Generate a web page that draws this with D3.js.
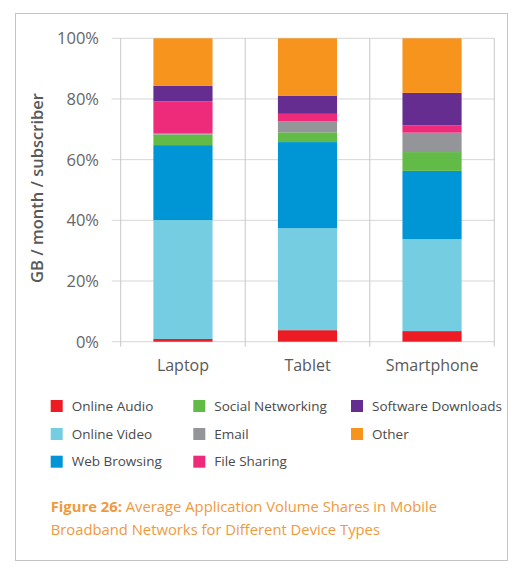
<!doctype html>
<html>
  <head>
    <meta charset="utf-8">
    <title>Application Volume Shares</title>
    <script src="https://cdnjs.cloudflare.com/ajax/libs/d3/7.8.5/d3.min.js"></script>
    <style>
      body { margin: 0; background: #fff; font-family: "Open Sans", "Noto Sans", sans-serif; }
    </style>
  </head>
  <body>
    <div id="chart"></div>
    <script>
      // data (percent of volume)
      const devices = ['Laptop', 'Tablet', 'Smartphone'];
      const apps = ['Online Audio', 'Online Video', 'Web Browsing', 'Social Networking',
                    'Email', 'File Sharing', 'Software Downloads', 'Other'];
      const laptop     = [0.9, 39.2, 24.7, 3.5, 0.5, 10.4, 5.1, 15.7];
      const tablet     = [3.8, 33.6, 28.4, 3.2, 3.7, 2.4, 5.9, 19.0];
      const smartphone = [3.5, 30.3, 22.5, 6.2, 6.4, 2.4, 10.7, 18.0];
      const yTicks = [0, 20, 40, 60, 80, 100];
      const colors = ['#ed1c24', '#74cde1', '#0096d6', '#62bb46',
                      '#939598', '#ee2a7b', '#662d91', '#f7941e'];

      const rows = [laptop, tablet, smartphone].map((vals, i) => {
        const r = { device: devices[i] };
        apps.forEach((a, j) => r[a] = vals[j]);
        return r;
      });

      const W = 516, H = 569;
      const svg = d3.select('#chart').append('svg')
        .attr('width', W).attr('height', H);

      // frame
      svg.append('rect')
        .attr('x', 15.5).attr('y', 13.5)
        .attr('width', 492).attr('height', 547)
        .attr('fill', 'none').attr('stroke', '#c4c4c4').attr('stroke-width', 1);

      const pLeft = 120.7, pRight = 494.3, pTop = 38.3, pBottom = 341.7;

      const x = d3.scaleBand().domain(devices).range([pLeft, pRight])
        .paddingInner(0.525).paddingOuter(0.2625);
      const y = d3.scaleLinear().domain([0, 100]).range([pBottom, pTop]);
      const color = d3.scaleOrdinal().domain(apps).range(colors);

      // horizontal grid + ticks
      svg.append('g')
        .selectAll('line').data(yTicks).join('line')
        .attr('x1', pLeft - 9).attr('x2', pRight)
        .attr('y1', d => y(d)).attr('y2', d => y(d))
        .attr('stroke', '#d6d6d6').attr('stroke-width', 1);

      // vertical category separators
      const band = (pRight - pLeft) / devices.length;
      svg.append('g')
        .selectAll('line').data(d3.range(devices.length + 1)).join('line')
        .attr('x1', i => pLeft + i * band).attr('x2', i => pLeft + i * band)
        .attr('y1', pTop).attr('y2', pBottom + 5)
        .attr('stroke', '#c8c8c8').attr('stroke-width', 1);

      const series = d3.stack().keys(apps)(rows);

      svg.append('g')
        .selectAll('g').data(series).join('g')
        .attr('fill', d => color(d.key))
        .selectAll('rect').data(d => d).join('rect')
        .attr('x', d => x(d.data.device))
        .attr('width', x.bandwidth())
        .attr('y', d => y(d[1]))
        .attr('height', d => y(d[0]) - y(d[1]));

      // y tick labels
      svg.append('g')
        .selectAll('text').data(yTicks).join('text')
        .attr('x', 99).attr('y', d => y(d))
        .attr('dy', '0.36em')
        .attr('text-anchor', 'end')
        .attr('font-size', 16.5)
        .attr('fill', '#666')
        .text(d => d + '%');

      // y title
      svg.append('text')
        .attr('transform', `translate(43,${(pTop + pBottom) / 2 - 2}) rotate(-90)`)
        .attr('text-anchor', 'middle')
        .attr('font-size', 16.5)
        .attr('font-weight', 600)
        .attr('fill', '#595959')
        .text('GB / month / subscriber');

      // x labels
      svg.append('g')
        .selectAll('text').data(devices).join('text')
        .attr('x', d => x(d) + x.bandwidth() / 2)
        .attr('y', 371)
        .attr('text-anchor', 'middle')
        .attr('font-size', 16)
        .attr('fill', '#595959')
        .text(d => d);

      // legend, filled column by column
      const legCols = [50.7, 193.3, 351];
      const legRows = [406, 434, 461.7];
      const leg = svg.append('g')
        .selectAll('g').data(apps).join('g')
        .attr('transform', (d, i) => `translate(${legCols[Math.floor(i / 3)]},${legRows[i % 3]})`);
      leg.append('rect')
        .attr('x', 0).attr('y', -6).attr('width', 12).attr('height', 12)
        .attr('fill', d => color(d));
      leg.append('text')
        .attr('x', 21).attr('dy', '0.35em')
        .attr('font-size', 13.5)
        .attr('fill', '#4a4a4a')
        .text(d => d);

      // caption
      const cap = svg.append('g').attr('fill', '#ef9a3d').attr('font-size', 14.8);
      const l1 = cap.append('text').attr('x', 50.7).attr('y', 511.7);
      l1.append('tspan').attr('font-weight', 700).text('Figure 26: ');
      l1.append('tspan').text('Average Application Volume Shares in Mobile');
      cap.append('text').attr('x', 50.7).attr('y', 535)
        .text('Broadband Networks for Different Device Types');
    </script>
  </body>
</html>
